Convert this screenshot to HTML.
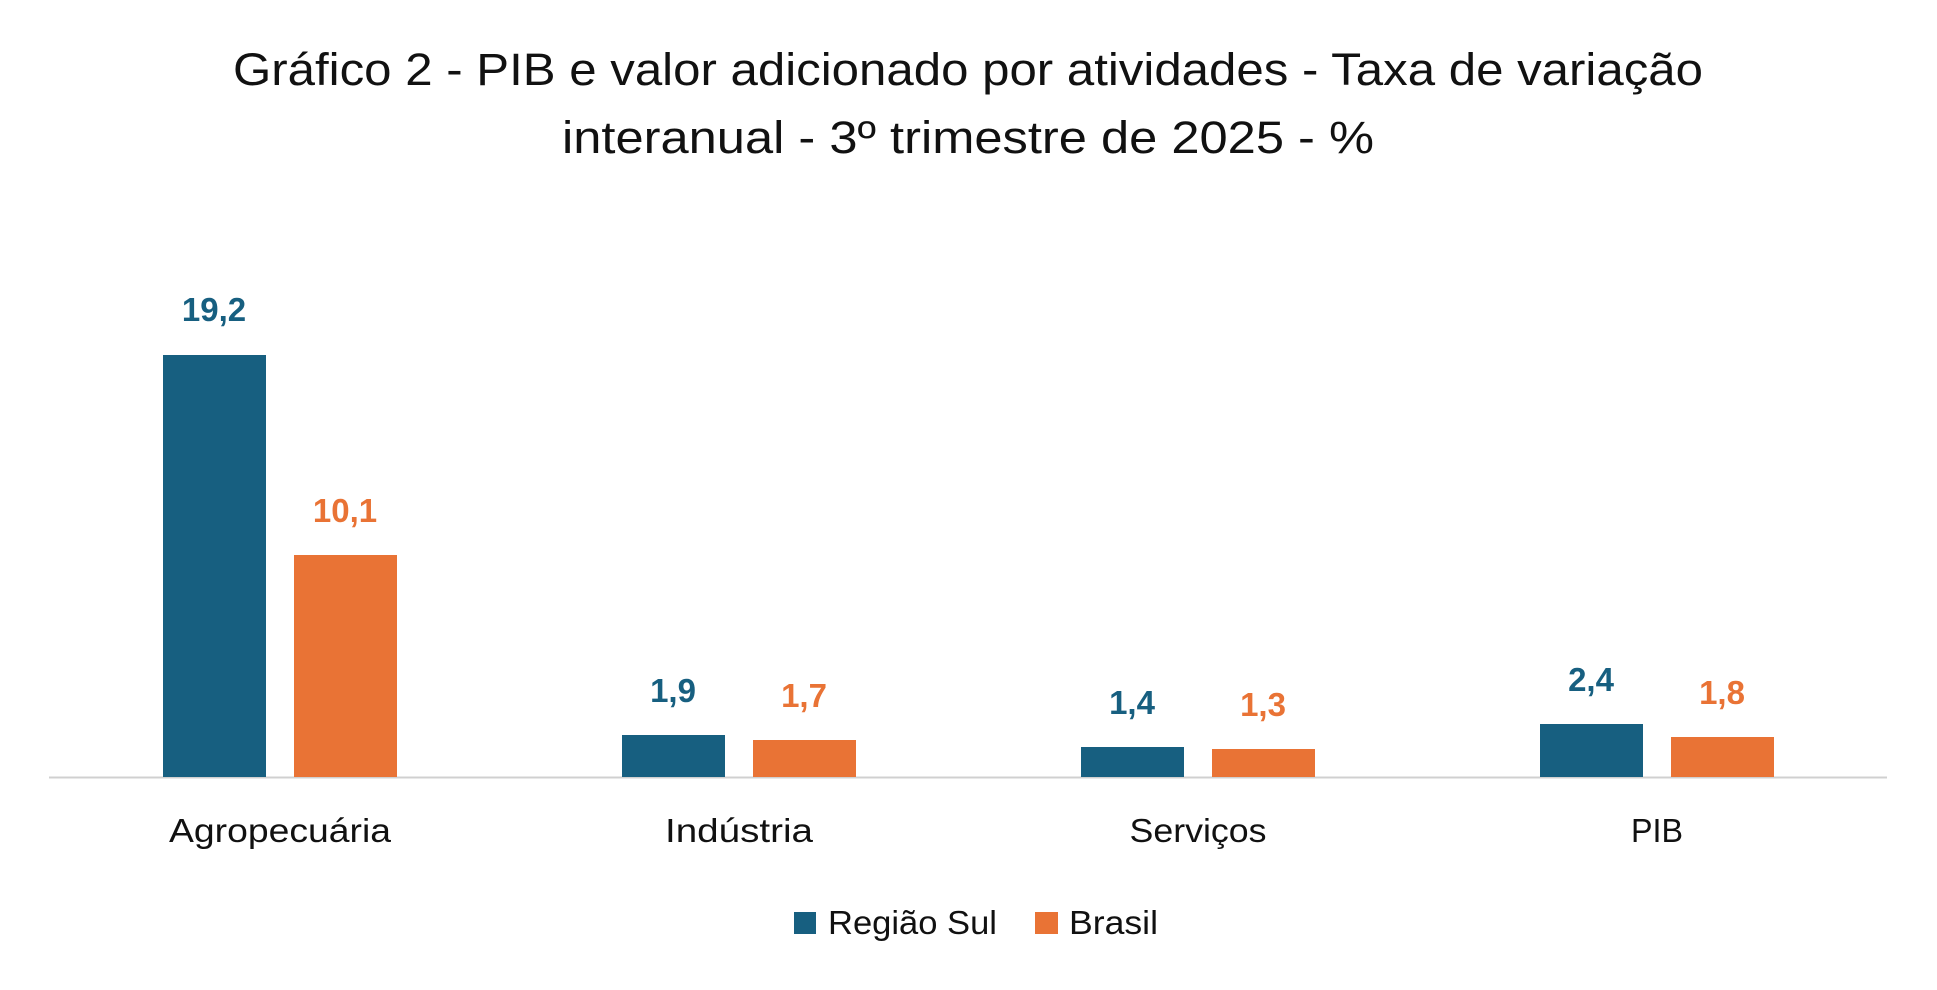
<!DOCTYPE html>
<html><head><meta charset="utf-8"><style>
html,body{margin:0;padding:0;background:#fff;}
svg{display:block;}
text{font-family:"Liberation Sans",Arial,sans-serif;}
</style></head><body>
<svg width="1937" height="990" viewBox="0 0 1937 990" xmlns="http://www.w3.org/2000/svg">
<rect width="1937" height="990" fill="#fff"/>
<text x="968" y="85" font-size="45" text-anchor="middle" fill="#111" textLength="1470" lengthAdjust="spacingAndGlyphs">Gráfico 2 - PIB e valor adicionado por atividades - Taxa de variação</text>
<text x="968" y="153" font-size="45" text-anchor="middle" fill="#111" textLength="812" lengthAdjust="spacingAndGlyphs">interanual - 3º trimestre de 2025 - %</text>
<line x1="49" y1="777.5" x2="1887" y2="777.5" stroke="#d0d0d0" stroke-width="2"/>
<g fill="#175f80">
<rect x="163" y="355" width="103" height="422"/>
<rect x="622" y="735" width="103" height="42"/>
<rect x="1081" y="747" width="103" height="30"/>
<rect x="1540" y="724" width="103" height="53"/>
</g>
<g fill="#e97335">
<rect x="294" y="555" width="103" height="222"/>
<rect x="753" y="740" width="103" height="37"/>
<rect x="1212" y="749" width="103" height="28"/>
<rect x="1671" y="737" width="103" height="40"/>
</g>
<g font-size="33" font-weight="bold" text-anchor="middle" fill="#175f80">
<text x="214" y="321">19,2</text>
<text x="673" y="702">1,9</text>
<text x="1132" y="714">1,4</text>
<text x="1591" y="691">2,4</text>
</g>
<g font-size="33" font-weight="bold" text-anchor="middle" fill="#e97335">
<text x="345" y="522">10,1</text>
<text x="804" y="707">1,7</text>
<text x="1263" y="716">1,3</text>
<text x="1722" y="704">1,8</text>
</g>
<g font-size="33" text-anchor="middle" fill="#111">
<text x="280" y="842" textLength="222" lengthAdjust="spacingAndGlyphs">Agropecuária</text>
<text x="739" y="842" textLength="148" lengthAdjust="spacingAndGlyphs">Indústria</text>
<text x="1198" y="842" textLength="137" lengthAdjust="spacingAndGlyphs">Serviços</text>
<text x="1657" y="842" textLength="52" lengthAdjust="spacingAndGlyphs">PIB</text>
</g>
<rect x="794" y="912" width="22" height="22" fill="#175f80"/>
<text x="828" y="934" font-size="33" fill="#111" textLength="169" lengthAdjust="spacingAndGlyphs">Região Sul</text>
<rect x="1035" y="912" width="23" height="22" fill="#e97335"/>
<text x="1069" y="934" font-size="33" fill="#111" textLength="89" lengthAdjust="spacingAndGlyphs">Brasil</text>
</svg>
</body></html>
